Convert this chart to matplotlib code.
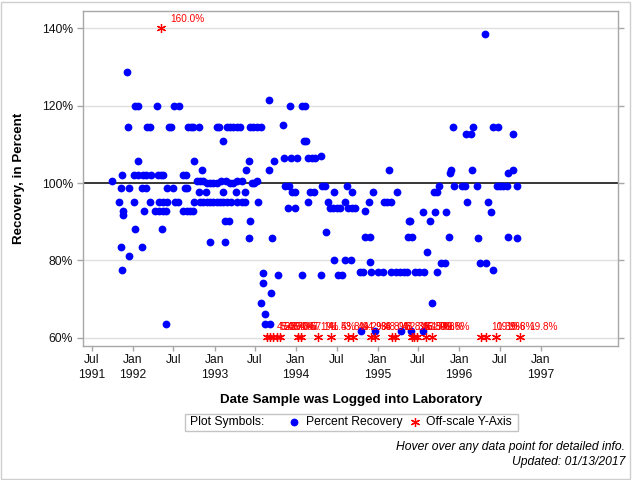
import numpy as np
import pandas as pd
import matplotlib
matplotlib.use("Agg")
import matplotlib.pyplot as plt
import matplotlib.dates as mdates
from matplotlib.lines import Line2D
from matplotlib.patches import Rectangle

plt.rcParams['font.family'] = ['Liberation Sans', 'DejaVu Sans']

# ---------------- data (decimal year of log date, percent recovery) ----------------
log_year = [
    1992.029, 1992.066, 1992.302, 1992.507, 1992.572, 1993.932, 1994.072, 1994.112,
    1993.663,
    1991.935,
    1996.321,
    1993.846,
    1991.940, 1992.173, 1992.205, 1992.438, 1992.470, 1992.679, 1992.712, 1992.743, 1992.817, 1993.037,
    1993.062, 1993.160, 1993.193, 1993.233, 1993.275, 1993.316, 1993.442, 1993.475, 1993.520, 1993.565,
    1995.928, 1996.173, 1996.418, 1996.480,
    1996.085, 1996.145, 1996.656,
    1993.111, 1994.104, 1994.125,
    1994.305,
    1993.855, 1993.944, 1994.017, 1994.153, 1994.194, 1994.234,
    1992.070, 1992.756, 1993.430, 1993.736,
    1992.854, 1993.393, 1993.663, 1995.138, 1995.900, 1996.154, 1996.656,
    1995.888, 1996.593,
    1991.867, 1992.017, 1992.070, 1992.124, 1992.164, 1992.222, 1992.315, 1992.348, 1992.376, 1992.614, 1992.658,
    1991.751, 1992.785, 1992.826, 1992.866, 1993.083, 1993.141, 1993.275, 1993.337, 1993.520,
    1992.908, 1992.948, 1992.988, 1993.030, 1993.193, 1993.233, 1993.459, 1993.487,
    1993.867, 1993.916, 1994.317, 1994.357, 1994.623, 1995.757, 1995.941, 1996.032, 1996.072, 1996.213,
    1996.460, 1996.501, 1996.541, 1996.583, 1996.705,
    1991.858, 1991.948, 1992.112, 1992.164, 1992.425, 1992.491, 1992.642, 1992.663,
    1992.817, 1992.893, 1993.111, 1993.270, 1993.369, 1993.956, 1993.989, 1994.177, 1994.226, 1994.469,
    1994.681, 1994.948, 1995.235, 1995.696, 1995.733,
    1991.837, 1992.009, 1992.205, 1992.324, 1992.376, 1992.425, 1992.519, 1992.560, 1992.756, 1992.826,
    1992.866, 1992.908, 1992.948, 1992.988, 1993.030, 1993.071, 1993.111, 1993.153, 1993.202, 1993.275,
    1993.337, 1993.381, 1993.536, 1994.153, 1994.398, 1994.602, 1994.900, 1995.080, 1995.113, 1995.159,
    1996.100, 1996.347,
    1993.906, 1993.989, 1994.418, 1994.458, 1994.500, 1994.541, 1994.643, 1994.684, 1994.728,
    1991.886, 1992.140, 1992.274, 1992.324, 1992.376, 1992.406, 1992.614, 1992.663, 1992.703, 1992.743, 1994.851,
    1995.561, 1995.708, 1995.843, 1996.394,
    1991.886,
    1993.124, 1993.181, 1993.442, 1995.386, 1995.402, 1995.647,
    1992.033, 1992.354,
    1994.363,
    1994.851, 1994.908, 1995.377, 1995.419, 1995.880, 1996.603,
    1993.418, 1993.711, 1996.235, 1996.702,
    1992.948, 1993.124,
    1991.850, 1992.107,
    1995.600,
    1991.948,
    1994.470, 1994.602, 1994.679,
    1994.912,
    1995.778, 1995.831, 1996.256, 1996.323,
    1991.874, 1996.409,
    1994.786, 1994.826, 1994.924, 1995.010, 1995.071, 1995.166, 1995.221, 1995.276, 1995.325, 1995.365,
    1995.459, 1995.512, 1995.564, 1995.725,
    1993.601,
    1993.785, 1994.069, 1994.312, 1994.510, 1994.562,
    1993.601,
    1993.692,
    1993.569, 1995.662,
    1993.626,
    1992.409, 1993.614, 1993.687,
    1994.795, 1994.969, 1995.288, 1995.410, 1995.551,
]
recovery_pct = [
    120.0, 120.0, 120.0, 120.0, 120.0, 120.0, 120.0, 120.0,
    121.6,
    128.6,
    138.6,
    115.1,
    114.4, 114.4, 114.4, 114.4, 114.4, 114.4, 114.4, 114.4, 114.4, 114.4,
    114.4, 114.4, 114.4, 114.4, 114.4, 114.4, 114.4, 114.4, 114.4, 114.4,
    114.4, 114.4, 114.4, 114.4,
    112.8, 112.8, 112.8,
    111.0, 111.0, 111.0,
    107.1,
    106.6, 106.6, 106.6, 106.6, 106.6, 106.6,
    105.8, 105.8, 105.8, 105.8,
    103.3, 103.3, 103.3, 103.3, 103.3, 103.3, 103.3,
    102.5, 102.5,
    102.2, 102.2, 102.2, 102.2, 102.2, 102.2, 102.2, 102.2, 102.2, 102.2, 102.2,
    100.6, 100.6, 100.6, 100.6, 100.6, 100.6, 100.6, 100.6, 100.6,
    100.1, 100.1, 100.1, 100.1, 100.1, 100.1, 100.1, 100.1,
    99.2, 99.2, 99.2, 99.2, 99.2, 99.2, 99.2, 99.2, 99.2, 99.2,
    99.2, 99.2, 99.2, 99.2, 99.2,
    98.6, 98.6, 98.6, 98.6, 98.6, 98.6, 98.6, 98.6,
    97.7, 97.7, 97.7, 97.7, 97.7, 97.7, 97.7, 97.7, 97.7, 97.7,
    97.7, 97.7, 97.7, 97.7, 97.7,
    95.2, 95.2, 95.2, 95.2, 95.2, 95.2, 95.2, 95.2, 95.2, 95.2,
    95.2, 95.2, 95.2, 95.2, 95.2, 95.2, 95.2, 95.2, 95.2, 95.2,
    95.2, 95.2, 95.2, 95.2, 95.2, 95.2, 95.2, 95.2, 95.2, 95.2,
    95.2, 95.2,
    93.5, 93.5, 93.5, 93.5, 93.5, 93.5, 93.5, 93.5, 93.5,
    92.7, 92.7, 92.7, 92.7, 92.7, 92.7, 92.7, 92.7, 92.7, 92.7, 92.7,
    92.4, 92.4, 92.4, 92.4,
    91.7,
    90.1, 90.1, 90.1, 90.1, 90.1, 90.1,
    88.1, 88.1,
    87.3,
    86.0, 86.0, 86.0, 86.0, 86.0, 86.0,
    85.7, 85.7, 85.7, 85.7,
    84.8, 84.8,
    83.4, 83.4,
    82.1,
    81.1,
    80.1, 80.1, 80.1,
    79.5,
    79.3, 79.3, 79.3, 79.3,
    77.5, 77.5,
    77.0, 77.0, 77.0, 77.0, 77.0, 77.0, 77.0, 77.0, 77.0, 77.0,
    77.0, 77.0, 77.0, 77.0,
    76.7,
    76.2, 76.2, 76.2, 76.2, 76.2,
    74.1,
    71.5,
    69.0, 69.0,
    66.1,
    63.5, 63.5, 63.5,
    61.7, 61.7, 61.7, 61.7, 61.7,
]

# off-scale results (plotted at the axis edge, labelled with their value)
offscale_year = [
    1992.340,
    1993.643, 1993.683, 1993.724, 1993.765, 1993.806, 1994.020, 1994.063, 1994.275,
    1994.431, 1994.643, 1994.704, 1994.921, 1994.963, 1995.174, 1995.214, 1995.419,
    1995.447, 1995.484, 1995.594, 1995.664, 1996.268, 1996.329, 1996.452, 1996.740,
]
offscale_value = [
    160.0,
    45.3, 52.6, 50.7, 48.4, 55.0, 47.1, 57.1, 41.5,
    43.8, 49.2, 44.9, 38.8, 48.0, 48.8, 52.3, 46.8,
    53.7, 51.9, 50.8, 49.8, 10.3, 19.9, 10.8, 19.8,
]

y_ticks = [60, 80, 100, 120, 140]
y_tick_labels = ['60%', '80%', '100%', '120%', '140%']
x_tick_dates = ['1991-07-01', '1992-01-01', '1992-07-01', '1993-01-01', '1993-07-01', '1994-01-01',
                '1994-07-01', '1995-01-01', '1995-07-01', '1996-01-01', '1996-07-01', '1997-01-01']
x_tick_labels = ['Jul\n1991', 'Jan\n1992', 'Jul', 'Jan\n1993', 'Jul', 'Jan\n1994',
                 'Jul', 'Jan\n1995', 'Jul', 'Jan\n1996', 'Jul', 'Jan\n1997']


def to_dates(years):
    y = np.asarray(years, dtype=float)
    return pd.Timestamp('1991-01-01') + pd.to_timedelta((y - 1991.0) * 365.25, unit='D')


# ---------------- figure ----------------
fig = plt.figure(figsize=(6.4, 4.8), dpi=100)
fig.patch.set_facecolor('white')
ax = fig.add_axes([0.1302, 0.2792, 0.8359, 0.6979])

Y_MIN, Y_MAX = 57.85, 144.5
ax.set_ylim(Y_MIN, Y_MAX)
ax.set_xlim(pd.Timestamp('1991-05-25'), pd.Timestamp('1997-12-13'))

for g in y_ticks:
    if g == 100:
        ax.axhline(g, color='black', lw=1.1, zorder=1)
    else:
        ax.axhline(g, color='#e0e0e0', lw=1.0, zorder=0)

ax.plot(to_dates(log_year), recovery_pct, 'o', color='#0000ff', ms=5.6, mec='none', zorder=3)

off_dates = to_dates(offscale_year)
off_y = [140.0 if v > Y_MAX else 60.3 for v in offscale_value]
ax.plot(off_dates, off_y, marker=(6, 2, 0), ls='none', color='#ff0000', ms=6.5, mew=0.9, zorder=4)
for d, yv, v in zip(off_dates, off_y, offscale_value):
    ax.annotate(f'{v:.1f}%', (d, yv), xytext=(7.0, 6.8), textcoords='offset points',
                color='#ff0000', fontsize=7.2, ha='left', va='center', zorder=5)

ax.set_yticks(y_ticks)
ax.set_yticklabels(y_tick_labels)
ax.set_xticks(pd.to_datetime(x_tick_dates))
ax.set_xticklabels(x_tick_labels, linespacing=1.25)

for s in ax.spines.values():
    s.set_color('#a8a8a8')
    s.set_linewidth(1.0)
ax.tick_params(axis='y', direction='out', length=4.3, width=1, color='#a8a8a8',
               left=True, right=True, labelsize=8.7, pad=3.2, labelcolor='#111111')
ax.tick_params(axis='x', direction='out', length=3.6, width=1, color='#a8a8a8',
               labelsize=8.7, pad=2.5, labelcolor='#111111')

fig.text(19 / 640, 1 - 178.5 / 480, 'Recovery, in Percent', rotation=90, ha='center', va='center',
         fontsize=9.6, fontweight='bold')
fig.text(0.548, 1 - 400.5 / 480, 'Date Sample was Logged into Laboratory', ha='center', va='center',
         fontsize=9.6, fontweight='bold')

# legend box
fig.add_artist(Rectangle((184.8 / 640, 1 - 430.7 / 480), (518.1 - 184.8) / 640, 16.7 / 480,
                         transform=fig.transFigure, fill=False, edgecolor='#c4c4c4', lw=1.0))
ly = 1 - 422.3 / 480
fig.text(189.6 / 640, ly, 'Plot Symbols:', ha='left', va='center', fontsize=8.7)
fig.add_artist(Line2D([294 / 640], [ly], marker='o', color='#0000ff', ms=5.6, mec='none',
                      transform=fig.transFigure))
fig.text(305.6 / 640, ly, 'Percent Recovery', ha='left', va='center', fontsize=8.7)
fig.add_artist(Line2D([414.8 / 640], [ly], marker=(6, 2, 0), color='#ff0000', ms=6.5, mew=0.9,
                      transform=fig.transFigure))
fig.text(426 / 640, ly, 'Off-scale Y-Axis', ha='left', va='center', fontsize=8.7)

fig.text(625 / 640, 1 - 447.3 / 480, 'Hover over any data point for detailed info.', ha='right',
         va='center', fontsize=8.7, style='italic')
fig.text(625 / 640, 1 - 462.3 / 480, 'Updated: 01/13/2017', ha='right', va='center', fontsize=8.7,
         style='italic')

# outer border
fig.add_artist(Rectangle((1 / 640, 1 / 480), 629 / 640, 477 / 480, transform=fig.transFigure,
                         fill=False, edgecolor='#cfcfcf', lw=1.0))

fig.savefig('out.png', dpi=100)
